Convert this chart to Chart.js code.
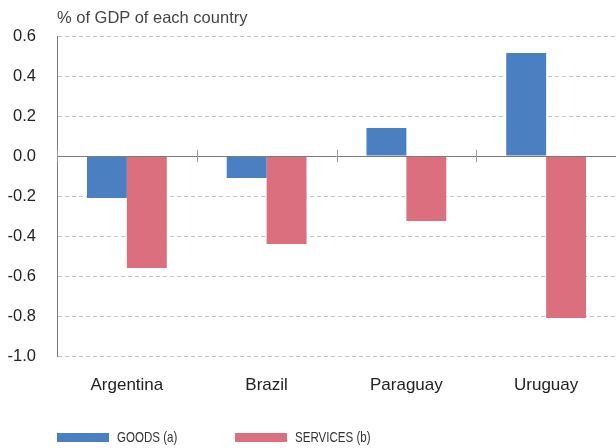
<!DOCTYPE html>
<html><head><meta charset="utf-8">
<script src="https://cdn.jsdelivr.net/npm/chart.js@4"></script>
<style>
html,body{margin:0;padding:0;background:#fff;}
#wrap{position:relative;width:616px;height:448px;}
#title{position:absolute;left:57px;top:8px;font:16.5px "Liberation Sans",Arial,sans-serif;color:#444;}
#legend{position:absolute;left:57px;top:428px;font:15px "Liberation Sans",sans-serif;color:#333;}
.item{position:absolute;top:0;white-space:nowrap;}
.box{display:inline-block;width:52px;height:9px;vertical-align:middle;position:relative;top:-1px;}
.txt{display:inline-block;transform:scaleX(0.77);transform-origin:left center;margin-left:8px;}
</style></head>
<body><div id="wrap"><canvas id="c" width="616" height="448"></canvas>
<div id="title">% of GDP of each country</div><div id="legend"></div></div>
<script>
const categories = ["Argentina","Brazil","Paraguay","Uruguay"];
const goods = [-0.21,-0.11,0.14,0.515];
const services = [-0.56,-0.44,-0.325,-0.81];
const seriesLabels = ["GOODS (a)","SERVICES (b)"];
const seriesColors = ["#4a80c2","#dc6f7e"];
const yTicks = {min:-1.0,max:0.6,step:0.2};

const lg = document.getElementById('legend');
seriesLabels.forEach((l,i)=>{
  const d=document.createElement('div');d.className='item';d.style.left=(i*178)+'px';
  d.innerHTML='<span class="box" style="background:'+seriesColors[i]+'"></span><span class="txt">'+l+'</span>';
  lg.appendChild(d);
});

const overlay = {
  id:'overlay',
  afterDatasetsDraw(chart){
    const {ctx,chartArea,scales:{x,y}}=chart;
    const y0=y.getPixelForValue(0);
    ctx.save();
    ctx.strokeStyle='#7a7a7a';ctx.lineWidth=1;
    ctx.beginPath();ctx.moveTo(chartArea.left,Math.round(y0)+0.5);ctx.lineTo(chartArea.right,Math.round(y0)+0.5);ctx.stroke();
    ctx.strokeStyle='#9a9a9a';
    for(let i=0;i<categories.length;i++){
      const px=i===0?chartArea.left:(x.getPixelForValue(i-1)+x.getPixelForValue(i))/2;
      ctx.beginPath();ctx.moveTo(Math.round(px)+0.5,y0-6);ctx.lineTo(Math.round(px)+0.5,y0+6);ctx.stroke();
    }
    ctx.restore();
  }
};

new Chart(document.getElementById('c'),{
  type:'bar',
  data:{labels:categories,datasets:[
    {label:seriesLabels[0],data:goods,backgroundColor:seriesColors[0]},
    {label:seriesLabels[1],data:services,backgroundColor:seriesColors[1]}
  ]},
  options:{
    responsive:false,animation:false,
    layout:{padding:{top:36,right:0,left:0,bottom:0}},
    plugins:{legend:{display:false},tooltip:{enabled:false}},
    datasets:{bar:{categoryPercentage:0.571,barPercentage:1.0,borderWidth:0}},
    scales:{
      x:{grid:{display:false},border:{display:false},
        ticks:{color:'#222',font:{family:'Liberation Sans',size:17},padding:11},
        afterFit(s){s.height=92;}},
      y:{min:yTicks.min,max:yTicks.max,
        ticks:{stepSize:yTicks.step,color:'#222',font:{family:'Liberation Sans',size:16.5},padding:21,
          callback:v=>(Math.abs(v)<1e-9?0:v).toFixed(1)},
        grid:{color:'#c4c4c4',lineWidth:1,drawTicks:false},
        border:{display:true,color:'#7a7a7a',width:1,dash:[4,3]},
        afterFit(s){s.width=57;}}
    }
  },
  plugins:[overlay]
});
</script></body></html>
